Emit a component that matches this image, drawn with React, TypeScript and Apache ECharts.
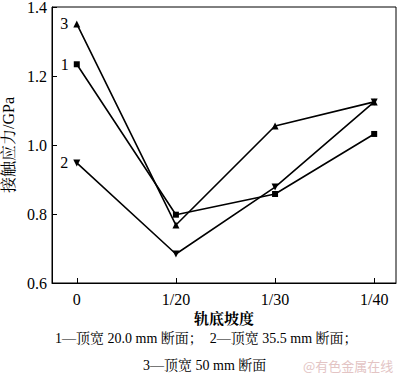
import React, { useEffect, useRef } from "react";
import * as echarts from "echarts";

const categories = ["0", "1/20", "1/30", "1/40"];
const series1 = [1.234, 0.798, 0.858, 1.032];
const series2 = [0.948, 0.684, 0.878, 1.125];
const series3 = [1.351, 0.768, 1.055, 1.125];
const seriesNames = ["1", "2", "3"];
const legendLine1 = "1—顶宽 20.0 mm 断面；  2—顶宽 35.5 mm 断面；";
const legendLine2 = "3—顶宽 50 mm 断面";
const watermark = "@有色金属在线";

const FONT = "'Liberation Serif', 'Noto Serif CJK SC', 'Noto Sans CJK SC', serif";

export default function App() {
  const ref = useRef<HTMLDivElement>(null);
  useEffect(() => {
    if (!ref.current) return;
    const chart = echarts.init(ref.current, undefined, { renderer: "svg" });
    const mk = (name: string, vals: number[], symbol: string, rotate = 0) => ({
      type: "line",
      name,
      data: vals.map((v, i) => [i, v]),
      symbol,
      symbolRotate: rotate,
      symbolSize: symbol === "rect" ? 6 : 7,
      lineStyle: { color: "#000", width: 1.6 },
      itemStyle: { color: "#000" },
      label: {
        show: true,
        position: "left",
        distance: 5,
        color: "#000",
        fontFamily: FONT,
        fontSize: 16,
        formatter: (p: any) => (p.dataIndex === 0 ? name : ""),
      },
    });
    chart.setOption({
      animation: false,
      grid: {
        left: 52,
        right: 4,
        top: 7,
        bottom: 94,
        show: true,
        borderColor: "#000",
        borderWidth: 1,
        containLabel: false,
        outerBoundsMode: "none",
      },
      xAxis: {
        type: "value",
        min: -0.25,
        max: 3.22,
        name: "轨底坡度",
        nameLocation: "middle",
        nameGap: 24,
        nameTextStyle: { fontFamily: FONT, fontSize: 15, fontWeight: "bold", color: "#000" },
        axisLine: { onZero: false, lineStyle: { color: "#000", width: 1 } },
        axisTick: { inside: true, length: 5, customValues: [0, 1, 2, 3], lineStyle: { color: "#000" } },
        axisLabel: {
          customValues: [0, 1, 2, 3],
          formatter: (v: number) => categories[Math.round(v)] ?? "",
          fontFamily: FONT,
          fontSize: 16,
          color: "#000",
          margin: 8,
        },
        splitLine: { show: false },
      },
      yAxis: {
        type: "value",
        min: 0.6,
        max: 1.4,
        interval: 0.2,
        name: "接触应力/GPa",
        nameLocation: "middle",
        nameGap: 31,
        nameTextStyle: { fontFamily: FONT, fontSize: 16, color: "#000" },
        axisLine: { show: true, onZero: false, lineStyle: { color: "#000", width: 1 } },
        axisTick: { show: true, inside: true, length: 5, lineStyle: { color: "#000" } },
        axisLabel: {
          formatter: (v: number) => v.toFixed(1),
          fontFamily: FONT,
          fontSize: 16,
          color: "#000",
          margin: 5,
        },
        splitLine: { show: false },
      },
      series: [
        mk(seriesNames[0], series1, "rect"),
        mk(seriesNames[1], series2, "triangle", 180),
        mk(seriesNames[2], series3, "triangle"),
      ],
      graphic: [
        {
          type: "text",
          left: 55,
          top: 331,
          style: { text: legendLine1, font: `14px ${FONT}`, fill: "#000" },
        },
        {
          type: "text",
          left: 143,
          top: 358,
          style: { text: legendLine2, font: `14px ${FONT}`, fill: "#000" },
        },
        {
          type: "text",
          left: 303,
          top: 359,
          style: { text: watermark, font: `13px 'Noto Sans CJK SC', sans-serif`, fill: "#e3c4c4" },
        },
      ],
    });
    return () => chart.dispose();
  }, []);
  return <div ref={ref} style={{ width: 400, height: 377, position: "absolute", left: 0, top: 0 }} />;
}
